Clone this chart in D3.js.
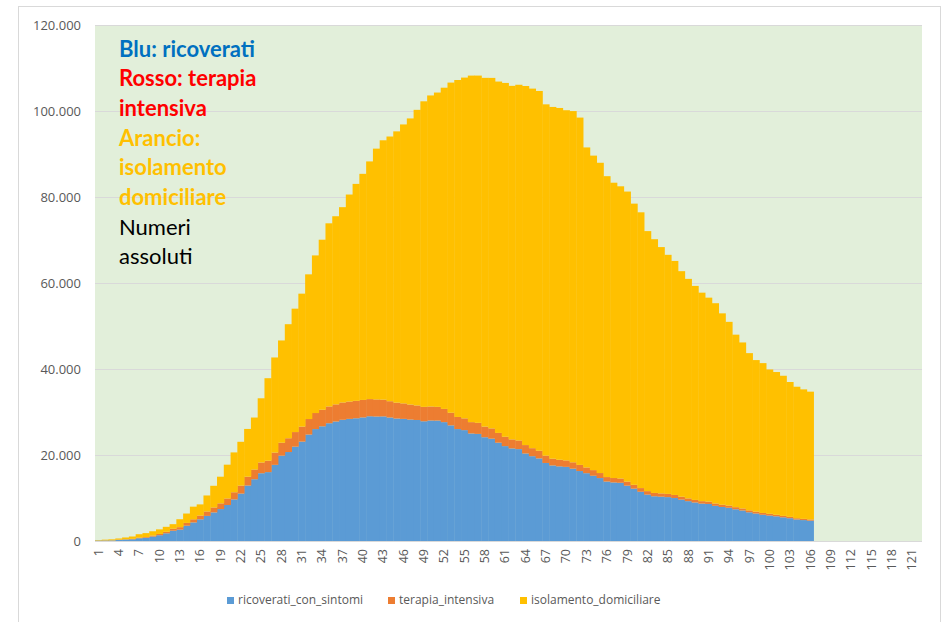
<!DOCTYPE html>
<html>
<head>
<meta charset="utf-8">
<script src="https://cdn.jsdelivr.net/npm/d3@7"></script>
<style>
body { margin: 0; background: #fff; }
</style>
</head>
<body>
<div id="chart"></div>
<script>
// giorni (categorie dell'asse x)
var days = d3.range(1, 123);

// ricoverati con sintomi, dal giorno 1
var ricoverati = [101,114,128,248,345,401,
  639,742,1034,1346,1790,2394,2651,3557,4316,5038,5838,6650,7426,8372,9663,11025,12894,14363,15757,16020,
  17708,19846,20692,21937,23112,24753,26029,26676,27386,27795,28192,
  28403,28540,28741,29010,28949,28976,28718,28485,28399,28242,28144,27847,28023,28011,27643,26893,26033,25786,25007,24906,
  24134,23805,22871,22068,21533,21372,20353,19723,19210,18149,
  17569,17357,17242,16823,16270,15769,15174,14636,13834,13618,13539,12865,12172,11453,10792,10400,10311,10207,9991,9624,
  9269,8957,8695,8613,8185,7917,7729,7379,7094,6680,6387,
  6099,5916,5742,5503,5301,5002,4864,4729];

// terapia intensiva
var terapia = [26,35,36,56,64,105,
  140,166,229,295,351,462,567,650,733,877,1028,1153,1328,1518,1672,1851,2060,2257,2498,2655,
  2857,3009,3204,3396,3489,3612,3732,3856,3906,3981,4023,
  4035,4053,4068,3994,3977,3898,3792,3693,3605,3497,3381,3343,3260,3186,3079,2936,2812,2733,2635,2573,
  2471,2384,2267,2173,2102,2009,1956,1863,1795,1694,
  1578,1539,1501,1479,1427,1333,1311,1168,1034,1027,999,952,893,855,808,775,762,749,716,676,
  640,595,572,553,541,521,505,489,475,450,435,
  424,408,353,338,316,293,287,283];

// isolamento domiciliare
var isolamento = [94,162,221,284,412,543,
  798,927,1000,1065,1155,1060,1843,2180,2936,2599,3724,5036,6201,7860,9268,10197,11108,12090,14935,19185,
  22116,23783,26522,28697,30920,33648,36653,39533,42588,43752,45420,
  48134,50456,52579,55270,58320,60313,61557,63084,64873,66534,68744,71063,72333,73094,74696,76778,78364,79252,80589,80758,
  81104,81510,81710,82286,82212,82722,83504,83619,83652,81708,
  81796,81808,81436,81678,80770,74426,73139,72157,69974,68679,67950,67449,65392,64132,60470,59012,57278,55597,54422,52452,
  51051,49770,48485,47428,46574,44504,42732,40118,38606,36561,35253,
  34844,33569,33202,32588,31359,30582,30111,29718];

var seriesNames = ["ricoverati_con_sintomi", "terapia_intensiva", "isolamento_domiciliare"];
var yTicks = [0, 20000, 40000, 60000, 80000, 100000, 120000];
var noteLines = ["Blu: ricoverati", "Rosso: terapia", "intensiva", "Arancio:", "isolamento", "domiciliare", "Numeri", "assoluti"];

var colors = ["#5b9bd5", "#ed7d31", "#ffc000"];
var noteColors = ["#0070c0", "#ff0000", "#ff0000", "#ffc000", "#ffc000", "#ffc000", "#000", "#000"];

// dimensions of the whole picture and of the plot area
var W = 950, H = 622;
var plot = {left: 95, right: 922, top: 25, bottom: 541};

var table = ricoverati.map(function(d, i) {
    var row = {day: days[i]};
    row[seriesNames[0]] = d;
    row[seriesNames[1]] = terapia[i];
    row[seriesNames[2]] = isolamento[i];
    return row;
});

var stacked = d3.stack().keys(seriesNames)(table);

var x = d3.scaleBand().domain(days).range([plot.left, plot.right]).padding(0);
var y = d3.scaleLinear().domain([0, 120000]).range([plot.bottom, plot.top]);

var itFormat = d3.formatLocale({decimal: ",", thousands: ".", grouping: [3], currency: ["€", ""]}).format(",d");

var svg = d3.select("#chart").append("svg")
    .attr("width", W)
    .attr("height", H);

// outer chart border
svg.append("rect")
    .attr("x", 18.5).attr("y", 6.5)
    .attr("width", 922).attr("height", 630)
    .attr("fill", "#fff")
    .attr("stroke", "#d9d9d9");

// plot background
svg.append("rect")
    .attr("x", plot.left).attr("y", plot.top)
    .attr("width", plot.right - plot.left).attr("height", plot.bottom - plot.top)
    .attr("fill", "#e2efda");

// gridlines
svg.append("g").selectAll("line")
    .data(yTicks.slice(1))
    .enter().append("line")
    .attr("x1", plot.left).attr("x2", plot.right)
    .attr("y1", function(d) { return Math.round(y(d)) + 0.5; })
    .attr("y2", function(d) { return Math.round(y(d)) + 0.5; })
    .attr("stroke", "#d9d9d9");

// stacked bars
svg.append("g").selectAll("g")
    .data(stacked)
    .enter().append("g")
    .attr("fill", function(d, i) { return colors[i]; })
    .selectAll("rect")
    .data(function(d) { return d; })
    .enter().append("rect")
    .attr("x", function(d) { return x(d.data.day); })
    .attr("width", x.bandwidth() + 0.4)
    .attr("y", function(d) { return y(d[1]); })
    .attr("height", function(d) { return y(d[0]) - y(d[1]); });

// x axis line
svg.append("line")
    .attr("x1", plot.left).attr("x2", plot.right)
    .attr("y1", plot.bottom + 0.5).attr("y2", plot.bottom + 0.5)
    .attr("stroke", "#d9d9d9");

// Y axis labels
var yAxis = svg.append("g")
    .attr("transform", "translate(" + plot.left + ",0)")
    .call(d3.axisLeft(y).tickValues(yTicks).tickFormat(itFormat).tickSize(0).tickPadding(14));
yAxis.select(".domain").remove();
yAxis.selectAll("text")
    .style("font-family", "'Open Sans', sans-serif")
    .style("font-size", "13px")
    .attr("fill", "#595959");

// X axis labels, every third day
var xAxis = svg.append("g")
    .attr("transform", "translate(0," + plot.bottom + ")")
    .call(d3.axisBottom(x).tickValues(days.filter(function(d) { return (d - 1) % 3 === 0; })).tickSize(0));
xAxis.select(".domain").remove();
xAxis.selectAll("text")
    .attr("transform", "rotate(-90)")
    .attr("x", -8)
    .attr("y", 0)
    .attr("dy", "0.35em")
    .style("text-anchor", "end")
    .style("font-family", "'Open Sans', sans-serif")
    .style("font-size", "12.5px")
    .attr("fill", "#595959");

// note in the top left corner
svg.append("g").selectAll("text")
    .data(noteLines)
    .enter().append("text")
    .attr("x", 119)
    .attr("y", function(d, i) { return 56.5 + i * 29.7; })
    .attr("fill", function(d, i) { return noteColors[i]; })
    .style("font-family", "Lato, sans-serif")
    .style("font-size", "22px")
    .style("font-weight", function(d, i) { return i < 6 ? "bold" : "normal"; })
    .text(function(d) { return d; });

// legend
var legendX = [227, 388, 520];
var legend = svg.append("g").selectAll("g")
    .data(seriesNames)
    .enter().append("g")
    .attr("transform", function(d, i) { return "translate(" + legendX[i] + ",597)"; });
legend.append("rect")
    .attr("width", 7).attr("height", 7)
    .attr("fill", function(d, i) { return colors[i]; });
legend.append("text")
    .attr("x", 11)
    .attr("y", 7)
    .attr("fill", "#595959")
    .style("font-family", "'Open Sans', sans-serif")
    .style("font-size", "12px")
    .text(function(d) { return d; });
</script>
</body>
</html>
